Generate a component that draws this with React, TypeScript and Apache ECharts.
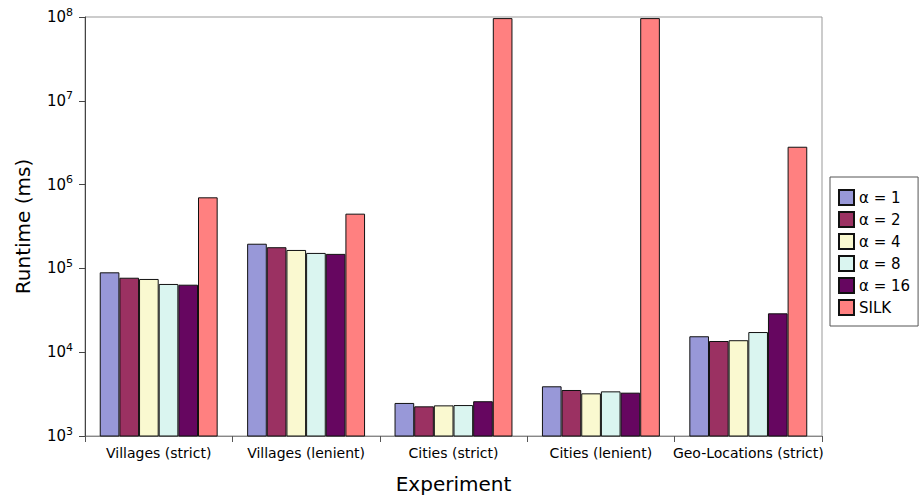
import React, { useEffect, useRef } from "react";
import * as echarts from "echarts";

const categories = [
  "Villages (strict)",
  "Villages (lenient)",
  "Cities (strict)",
  "Cities (lenient)",
  "Geo-Locations (strict)",
];
const seriesNames = ["α = 1", "α = 2", "α = 4", "α = 8", "α = 16", "SILK"];
const alpha1 = [89800, 197000, 2480, 3920, 15500];
const alpha2 = [77400, 179000, 2260, 3540, 13600];
const alpha4 = [74800, 166000, 2320, 3230, 13900];
const alpha8 = [65200, 153000, 2340, 3410, 17400];
const alpha16 = [63900, 149000, 2600, 3290, 29100];
const silk = [705000, 450000, 97000000, 97000000, 2830000];
const colors = ["#9898D8", "#9B3162", "#FAF9D0", "#DAF5F0", "#660660", "#FF8080"];

const FONT = "DejaVu Sans";

export default function App() {
  const ref = useRef<HTMLDivElement>(null);
  useEffect(() => {
    document.body.style.margin = "0";
    if (!ref.current) return;
    const chart = echarts.init(ref.current, null, { renderer: "svg" });
    const data = [alpha1, alpha2, alpha4, alpha8, alpha16, silk];
    chart.setOption({
      animation: false,
      textStyle: { fontFamily: FONT },
      grid: {
        left: 85,
        right: 97,
        top: 17,
        bottom: 64,
        show: true,
        borderColor: "#999",
        borderWidth: 1,
      },
      legend: {
        orient: "vertical",
        left: 830,
        top: 177,
        width: 88,
        itemWidth: 15,
        itemHeight: 15,
        itemGap: 5,
        padding: [12, 8, 10, 8],
        borderColor: "#555",
        borderWidth: 1,
        icon: "rect",
        data: seriesNames,
        textStyle: { fontFamily: FONT, fontSize: 15, color: "#000" },
      },
      xAxis: {
        type: "category",
        data: categories,
        name: "Experiment",
        nameLocation: "middle",
        nameGap: 38,
        nameTextStyle: { fontFamily: FONT, fontSize: 20, color: "#000" },
        axisLine: { lineStyle: { color: "#888", width: 1 } },
        axisTick: { show: true, length: 6, lineStyle: { color: "#555" } },
        axisLabel: { fontFamily: FONT, fontSize: 14, color: "#000", margin: 10, interval: 0 },
      },
      yAxis: {
        type: "log",
        logBase: 10,
        min: 1000,
        max: 100000000,
        name: "Runtime (ms)",
        nameLocation: "middle",
        nameGap: 52,
        nameTextStyle: { fontFamily: FONT, fontSize: 20, color: "#000" },
        splitLine: { show: false },
        axisLine: { show: true, lineStyle: { color: "#444", width: 1 } },
        axisTick: { show: true, length: 6, lineStyle: { color: "#444" } },
        axisLabel: {
          margin: 12,
          formatter: (v: number) => `{b|10}{s|${Math.round(Math.log10(v))}}`,
          rich: {
            b: { fontFamily: FONT, fontSize: 15, color: "#000" },
            s: {
              fontFamily: FONT,
              fontSize: 11,
              color: "#000",
              verticalAlign: "top",
              padding: [0, 0, 10, 0],
            },
          },
        },
      },
      series: data.map((d, i) => ({
        name: seriesNames[i],
        type: "bar",
        data: d,
        barGap: "0%",
        barCategoryGap: "20%",
        itemStyle: { color: colors[i], borderColor: "#111", borderWidth: 1 },
      })),
    });
    return () => chart.dispose();
  }, []);
  return <div ref={ref} style={{ width: 919, height: 500 }} />;
}
